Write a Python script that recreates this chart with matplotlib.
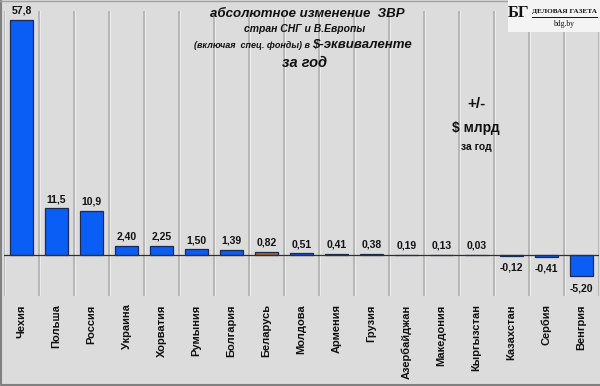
import matplotlib
matplotlib.use("Agg")
import matplotlib.pyplot as plt
from matplotlib.patches import Rectangle

plt.rcParams['font.family'] = ['Liberation Sans', 'DejaVu Sans']

countries = ["Чехия", "Польша", "Россия", "Украина", "Хорватия", "Румыния",
             "Болгария", "Беларусь", "Молдова", "Армения", "Грузия",
             "Азербайджан", "Македония", "Кыргызстан", "Казахстан", "Сербия", "Венгрия"]
values = [57.8, 11.5, 10.9, 2.40, 2.25, 1.50, 1.39, 0.82, 0.51, 0.41, 0.38,
          0.19, 0.13, 0.03, -0.12, -0.41, -5.20]
labels = ["57,8", "11,5", "10,9", "2,40", "2,25", "1,50", "1,39", "0,82", "0,51",
          "0,41", "0,38", "0,19", "0,13", "0,03", "-0,12", "-0,41", "-5,20"]
highlight = "Беларусь"

W, H = 600, 386
fig = plt.figure(figsize=(W / 100, H / 100), dpi=100)
bg = "#dcdcdc"
fig.patch.set_facecolor(bg)

ax = fig.add_axes([4 / W, (H - 296) / H, 595 / W, 285 / H])
ax.set_facecolor(bg)

x = list(range(len(values)))
colors = ["#c0601e" if c == highlight else "#0a5ef5" for c in countries]
ax.bar(x, values, width=0.66, color=colors, edgecolor="#1a2a50", linewidth=0.9, zorder=3)

ax.set_xlim(-0.5, len(values) - 0.5)
ax.set_ylim(-10, 60)

# category separators
for b in range(len(values) + 1):
    ax.axvline(b - 0.5, color="#b0b0b0", lw=1.2, zorder=1)
    ax.axvline(b - 0.5 + 0.03, color="#f0f0f0", lw=0.6, zorder=1)
ax.axhline(0, color="#303030", lw=0.9, zorder=4)

for xi, v, lab in zip(x, values, labels):
    if v >= 0:
        ax.annotate(lab, (xi, v), xytext=(0, 3), textcoords="offset points",
                    ha="center", va="bottom", fontsize=7.5, fontweight="bold", color="#111111")
    else:
        ax.annotate(lab, (xi, v), xytext=(0, -5), textcoords="offset points",
                    ha="center", va="top", fontsize=7.5, fontweight="bold", color="#111111")

ax.set_xticks(x)
ax.set_xticklabels(countries, rotation=90, fontsize=8, fontweight="bold", color="#111111")
ax.tick_params(axis="x", length=0, pad=6)
ax.set_yticks([])
for s in ax.spines.values():
    s.set_visible(False)

# title
tk = dict(ha="center", va="center", style="italic", fontweight="bold", color="#111111")
fig.text(307 / W, 1 - 14 / H, "абсолютное изменение  ЗВР", fontsize=9.5, **tk)
fig.text(305 / W, 1 - 29 / H, "стран СНГ и В.Европы", fontsize=7.5, **tk)
fig.text(312 / W, 1 - 45 / H, "(включая  спец. фонды) в ", fontsize=6.5, ha="right",
         va="center", style="italic", fontweight="bold", color="#111111")
fig.text(312 / W, 1 - 45 / H, "$-эквиваленте", fontsize=9.5, ha="left",
         va="center", style="italic", fontweight="bold", color="#111111")
fig.text(305 / W, 1 - 63 / H, "за год", fontsize=10.5, **tk)

# unit annotation
uk = dict(ha="center", va="center", fontweight="bold", color="#111111")
fig.text(476 / W, 1 - 104 / H, "+/-", fontsize=11, **uk)
fig.text(476 / W, 1 - 128 / H, "$ млрд", fontsize=10, **uk)
fig.text(476 / W, 1 - 147 / H, "за год", fontsize=7.5, **uk)

# logo
fig.patches.append(Rectangle((508 / W, 1 - 32 / H), 92 / W, 32 / H, transform=fig.transFigure,
                             facecolor="#f4f4f4", edgecolor="none", zorder=5))
fig.text(519 / W, 1 - 13 / H, "БГ", fontsize=12, fontweight="bold", family="Liberation Serif",
         ha="center", va="center", color="#111111", zorder=6)
fig.text(564 / W, 1 - 12 / H, "ДЕЛОВАЯ ГАЗЕТА", fontsize=5.2, fontweight="bold",
         family="Liberation Serif", ha="center", va="center", color="#111111", zorder=6)
fig.lines.append(plt.Line2D([532 / W, 597 / W], [1 - 17 / H, 1 - 17 / H], transform=fig.transFigure,
                            color="#111111", lw=0.7, zorder=6))
fig.text(564 / W, 1 - 24 / H, "bdg.by", fontsize=5.5, family="Liberation Serif",
         ha="center", va="center", color="#111111", zorder=6)

# frame
fig.lines.append(plt.Line2D([0.5 / W, 0.5 / W, 599.5 / W], [1, 1.5 / H, 1.5 / H],
                            transform=fig.transFigure, color="#808080", lw=1.5))
fig.lines.append(plt.Line2D([0, 1], [1 - 0.5 / H, 1 - 0.5 / H],
                            transform=fig.transFigure, color="#a0a0a0", lw=1))

fig.savefig("out.png", dpi=100, facecolor=bg)
